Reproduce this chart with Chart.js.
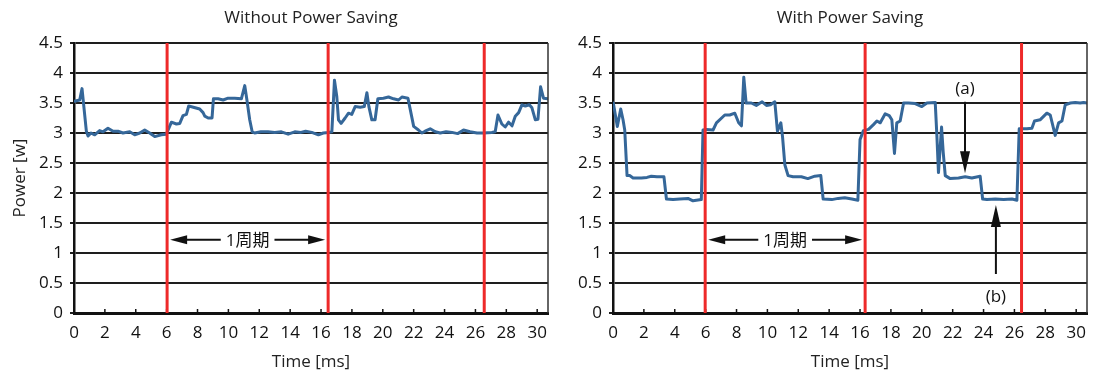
<!DOCTYPE html>
<html>
<head>
<meta charset="utf-8">
<script src="https://cdn.jsdelivr.net/npm/chart.js@4"></script>
<style>
  html, body { margin: 0; padding: 0; background: #fff; }
  #wrap { position: relative; width: 1094px; height: 374px; }
  canvas { position: absolute; top: 0; }
</style>
</head>
<body>
<div id="wrap">
  <canvas id="left" width="550" height="374" style="left:0"></canvas>
  <canvas id="right" width="544" height="374" style="left:550px"></canvas>
</div>
<script>
// ---- Measured power draw, Without Power Saving (time in ms, power in W) ----
const L_TIME = [0.02,0.37,0.52,0.8,0.91,1.1,1.34,1.66,1.88,2.2,2.53,2.85,3.17,3.61,3.93,4.26,4.58,4.9,5.23,5.66,5.98,
  6.31,6.63,6.85,7.06,7.28,7.43,7.73,8.14,8.36,8.47,8.69,8.94,9.03,9.33,9.66,9.98,10.41,10.84,11.06,11.2,11.38,11.54,
  11.7,12.1,12.57,13.0,13.43,13.87,14.3,14.7,15.0,15.4,15.83,16.15,16.48,16.7,16.87,17.02,17.13,17.3,17.56,17.78,17.99,
  18.21,18.54,18.8,18.97,19.1,19.29,19.5,19.68,20.04,20.37,20.7,21.02,21.24,21.63,21.78,22.0,22.31,22.53,22.74,23.07,
  23.4,23.72,24.1,24.48,24.85,25.23,25.65,26.1,26.53,27.06,27.28,27.46,27.71,27.93,28.15,28.37,28.58,28.8,29.01,29.23,
  29.49,29.66,29.88,30.05,30.22,30.41,30.74];
const L_POWER = [3.53,3.55,3.74,3.03,2.95,3.0,2.97,3.04,3.02,3.08,3.03,3.03,3.0,3.02,2.97,3.0,3.05,3.0,2.94,2.97,2.98,
  3.18,3.15,3.16,3.29,3.31,3.45,3.43,3.40,3.34,3.28,3.25,3.25,3.57,3.57,3.55,3.58,3.58,3.57,3.79,3.55,3.22,3.02,
  3.0,3.02,3.02,3.01,3.02,2.98,3.02,3.01,3.03,3.01,2.97,3.0,3.01,3.02,3.88,3.61,3.22,3.16,3.25,3.33,3.31,
  3.44,3.43,3.44,3.67,3.44,3.22,3.22,3.57,3.58,3.6,3.57,3.55,3.6,3.58,3.39,3.11,3.05,3.0,3.03,3.07,
  3.02,3.0,3.02,3.01,2.99,3.05,3.02,3.0,3.0,3.01,3.02,3.3,3.15,3.1,3.18,3.12,3.28,3.34,3.47,3.45,
  3.47,3.42,3.22,3.23,3.77,3.58,3.57];

// ---- Measured power draw, With Power Saving ----
const R_TIME = [0.02,0.28,0.5,0.65,0.76,0.91,1.08,1.3,1.84,2.2,2.48,2.85,3.3,3.46,3.89,4.33,4.86,5.18,5.72,5.83,6.03,
  6.48,6.7,7.24,7.56,7.89,8.14,8.32,8.47,8.62,8.96,9.28,9.66,9.94,10.2,10.48,10.65,10.87,10.98,11.13,11.34,11.66,12.2,
  12.62,13.07,13.46,13.61,14.17,14.58,15.01,15.47,15.86,16.0,16.22,16.55,16.87,17.09,17.31,17.63,17.89,18.06,18.23,
  18.38,18.6,18.82,19.14,19.57,20.0,20.33,20.87,20.98,21.08,21.28,21.39,21.52,21.84,22.38,22.81,23.24,23.78,23.94,
  24.22,24.76,25.3,25.84,26.16,26.31,26.81,27.13,27.3,27.66,28.1,28.32,28.64,28.86,29.08,29.29,29.62,29.94,30.26,
  30.48,30.7];
const R_POWER = [3.5,3.11,3.4,3.22,3.05,2.29,2.29,2.25,2.25,2.26,2.28,2.27,2.27,1.9,1.89,1.9,1.91,1.87,1.89,3.05,3.06,
  3.05,3.17,3.3,3.3,3.33,3.17,3.12,3.93,3.5,3.5,3.46,3.52,3.46,3.47,3.52,3.03,3.17,2.94,2.47,2.29,2.27,2.27,
  2.24,2.28,2.29,1.9,1.89,1.91,1.92,1.9,1.88,2.89,3.04,3.06,3.14,3.2,3.17,3.32,3.29,3.22,2.66,
  3.17,3.2,3.5,3.5,3.49,3.44,3.5,3.51,2.94,2.34,3.1,2.67,2.29,2.24,2.25,2.27,2.25,2.28,1.9,
  1.89,1.9,1.89,1.9,1.88,3.07,3.07,3.08,3.2,3.22,3.33,3.3,2.96,3.17,3.2,3.47,3.5,3.51,3.5,
  3.51,3.5];

// Axis ticks and cycle boundaries (ms)
const X_TICKS = [0,2,4,6,8,10,12,14,16,18,20,22,24,26,28,30];
const X_MAX = 30.7;
const Y_MAX = 4.5;
const Y_STEP = 0.5;
const L_CYCLE_MARKS = [6.03, 16.46, 26.57];
const R_CYCLE_MARKS = [5.97, 16.33, 26.46];
const PERIOD_LABEL = '1周期';
const PERIOD_Y = 1.22;
// Callouts on the power-saving plot: label, x, label y, arrow start y, arrow tip y
const R_CALLOUTS = [
  { text: '(a)', x: 22.8, labelY: 3.73, fromY: 3.52, toY: 2.33 },
  { text: '(b)', x: 24.8, labelY: 0.27, fromY: 0.65, toY: 1.80 }
];

const FONT = "'Open Sans', 'Noto Sans CJK JP', sans-serif";
const LINE_BLUE = '#356799';
const MARK_RED = '#ee2a2a';

function arrowHead(ctx, x, y, dx, dy, len, half) {
  // filled triangle with tip at (x,y) pointing along (dx,dy)
  const bx = x - dx * len, by = y - dy * len;
  ctx.beginPath();
  ctx.moveTo(x, y);
  ctx.lineTo(bx - dy * half, by + dx * half);
  ctx.lineTo(bx + dy * half, by - dx * half);
  ctx.closePath();
  ctx.fill();
}

const decor = {
  id: 'decor',
  afterDatasetsDraw(chart, args, opts) {
    const { ctx, chartArea: a, scales: { x, y } } = chart;
    ctx.save();
    // right-hand frame edge
    ctx.strokeStyle = '#333';
    ctx.lineWidth = 1.5;
    ctx.beginPath();
    ctx.moveTo(a.right, a.top); ctx.lineTo(a.right, a.bottom);
    ctx.stroke();
    // inward tick marks on the time axis
    ctx.strokeStyle = '#111';
    ctx.lineWidth = 1.5;
    X_TICKS.forEach(v => {
      const px = x.getPixelForValue(v);
      ctx.beginPath();
      ctx.moveTo(px, a.bottom); ctx.lineTo(px, a.bottom - 4);
      ctx.stroke();
    });
    // cycle boundary markers
    ctx.strokeStyle = MARK_RED;
    ctx.lineWidth = 3;
    opts.marks.forEach(v => {
      const px = x.getPixelForValue(v);
      ctx.beginPath();
      ctx.moveTo(px, a.top); ctx.lineTo(px, a.bottom);
      ctx.stroke();
    });
    // one-period span arrow
    ctx.fillStyle = '#111';
    ctx.strokeStyle = '#111';
    ctx.lineWidth = 2;
    ctx.font = '17px ' + FONT;
    ctx.textAlign = 'center';
    ctx.textBaseline = 'middle';
    const x1 = x.getPixelForValue(opts.marks[0]) + 3;
    const x2 = x.getPixelForValue(opts.marks[1]) - 3;
    const py = y.getPixelForValue(PERIOD_Y);
    const mid = (x1 + x2) / 2;
    const tw = ctx.measureText(PERIOD_LABEL).width;
    ctx.fillText(PERIOD_LABEL, mid, py + 1);
    ctx.beginPath();
    ctx.moveTo(x1 + 10, py); ctx.lineTo(mid - tw / 2 - 5, py);
    ctx.moveTo(mid + tw / 2 + 5, py); ctx.lineTo(x2 - 10, py);
    ctx.stroke();
    arrowHead(ctx, x1, py, -1, 0, 17, 4.5);
    arrowHead(ctx, x2, py, 1, 0, 17, 4.5);
    // callouts
    (opts.callouts || []).forEach(c => {
      const cx = x.getPixelForValue(c.x);
      const ly = y.getPixelForValue(c.labelY);
      const fy = y.getPixelForValue(c.fromY);
      const ty = y.getPixelForValue(c.toY);
      ctx.fillText(c.text, cx, ly);
      const dir = ty > fy ? 1 : -1;
      ctx.beginPath();
      ctx.moveTo(cx, fy); ctx.lineTo(cx, ty - dir * 12);
      ctx.stroke();
      arrowHead(ctx, cx, ty, 0, dir, 22, 5);
    });
    ctx.restore();
  }
};

function makeChart(id, title, times, power, marks, callouts, showYTitle, yWidth, rightPad) {
  const points = times.map((t, i) => ({ x: t, y: power[i] }));
  return new Chart(document.getElementById(id), {
    type: 'line',
    data: {
      datasets: [{
        data: points,
        borderColor: LINE_BLUE,
        borderWidth: 3,
        pointRadius: 0,
        tension: 0,
        borderJoinStyle: 'round',
        borderCapStyle: 'round'
      }]
    },
    options: {
      responsive: false,
      animation: false,
      devicePixelRatio: 1,
      layout: { padding: { top: 0, right: rightPad, bottom: 0, left: 0 } },
      plugins: {
        legend: { display: false },
        tooltip: { enabled: false },
        title: {
          display: true,
          text: title,
          fullSize: false,
          color: '#222',
          font: { family: FONT, size: 17, weight: 'normal', lineHeight: 1.2 },
          padding: { top: 8, bottom: 14.6 }
        },
        decor: { marks: marks, callouts: callouts }
      },
      scales: {
        x: {
          type: 'linear',
          min: 0,
          max: X_MAX,
          afterBuildTicks: s => { s.ticks = X_TICKS.map(v => ({ value: v })); },
          afterFit: s => { s.height = 61; s.paddingLeft = 0; s.paddingRight = 0; },
          grid: { display: false, drawTicks: false },
          border: { display: true, color: '#111', width: 3 },
          ticks: { color: '#111', padding: 10, maxRotation: 0, autoSkip: false,
                   font: { family: FONT, size: 17 } },
          title: { display: true, text: 'Time [ms]', color: '#222',
                   font: { family: FONT, size: 17, lineHeight: 1.2 },
                   padding: { top: 0, bottom: 2 } }
        },
        y: {
          type: 'linear',
          min: 0,
          max: Y_MAX,
          afterFit: s => { s.width = yWidth; },
          ticks: { stepSize: Y_STEP, color: '#111', padding: 7,
                   callback: v => String(Math.round(v * 10) / 10),
                   font: { family: FONT, size: 17 } },
          grid: { color: '#1e1e1e', lineWidth: 2, drawTicks: true, tickLength: 4, tickColor: '#1e1e1e' },
          border: { display: true, color: '#111', width: 2.5 },
          title: { display: showYTitle, text: 'Power [w]', color: '#222',
                   font: { family: FONT, size: 17, lineHeight: 1.2 },
                   padding: { top: 10, bottom: 0 } }
        }
      }
    },
    plugins: [decor]
  });
}

makeChart('left', 'Without Power Saving', L_TIME, L_POWER, L_CYCLE_MARKS, [], true, 74, 2);
makeChart('right', 'With Power Saving', R_TIME, R_POWER, R_CYCLE_MARKS, R_CALLOUTS, false, 63, 7);
</script>
</body>
</html>
